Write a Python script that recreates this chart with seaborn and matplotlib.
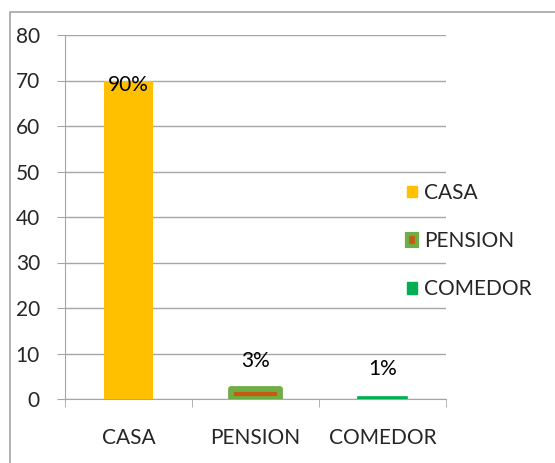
import numpy as np
import pandas as pd
import seaborn as sns
import matplotlib.pyplot as plt
from matplotlib.patches import Patch, Rectangle

# data
categorias = ["CASA", "PENSION", "COMEDOR"]
valores = [70, 2.3, 0.5]
etiquetas = ["90%", "3%", "1%"]

colores = {"CASA": "#FFC000", "PENSION": "#C55A11", "COMEDOR": "#00B050"}
bordes = {"CASA": "#FFC000", "PENSION": "#70AD47", "COMEDOR": "#00B050"}

df = pd.DataFrame({"lugar": categorias, "valor": valores})

sns.set_style("white")
plt.rcParams["font.family"] = ["Lato", "DejaVu Sans"]

fig = plt.figure(figsize=(5.55, 4.63), dpi=100)
ax = fig.add_axes([65 / 555, 1 - 399 / 463, (446 - 65) / 555, (399 - 35) / 463])

sns.barplot(data=df, x="lugar", y="valor", hue="lugar", palette=colores,
            dodge=False, width=0.39, saturation=1, legend=False, ax=ax, zorder=3)

for bar, cat in zip(ax.patches, categorias):
    if cat == "PENSION":
        bar.set_edgecolor(bordes[cat])
        bar.set_linewidth(4.2)
        bar.set_joinstyle("round")
    elif cat == "COMEDOR":
        bar.set_edgecolor(bordes[cat])
        bar.set_linewidth(1.2)
    else:
        bar.set_linewidth(0)

# percentage labels
fs = 15
offsets = [-3, 20, 20]
for i, (v, lab, off) in enumerate(zip(valores, etiquetas, offsets)):
    ax.annotate(lab, (i, v), xytext=(0, off), textcoords="offset points",
                ha="center", va="center", fontsize=fs, color="black", zorder=5)

ax.set_ylim(0, 80)
ax.set_yticks(range(0, 81, 10))
ax.set_xlim(-0.5, 2.5)
ax.set_xlabel("")
ax.set_ylabel("")
ax.yaxis.grid(True, color="#A6A6A6", linewidth=1, zorder=0)
ax.tick_params(axis="y", length=6, color="#A6A6A6", labelsize=fs, pad=12)
ax.tick_params(axis="x", length=0, labelsize=fs, pad=21)
ax.set_xticks(range(3))
ax.set_xticklabels(categorias)
ax.set_xticks([-0.5, 0.5, 1.5, 2.5], minor=True)
ax.tick_params(axis="x", which="minor", length=6, color="#A6A6A6", direction="out")
ax.xaxis.set_ticks_position("bottom")
ax.yaxis.set_ticks_position("left")

for s in ["top", "right"]:
    ax.spines[s].set_visible(False)
ax.spines["left"].set_color("#A6A6A6")
ax.spines["bottom"].set_color("#A6A6A6")

handles = [
    Patch(facecolor=colores["CASA"], edgecolor=colores["CASA"], label="CASA"),
    Patch(facecolor=colores["PENSION"], edgecolor=bordes["PENSION"], linewidth=3, label="PENSION"),
    Patch(facecolor=colores["COMEDOR"], edgecolor=colores["COMEDOR"], label="COMEDOR"),
]
fig.legend(handles=handles, loc="center left", bbox_to_anchor=(388 / 555, 1 - 241 / 463),
           frameon=False, fontsize=fs, handlelength=0.5, handleheight=0.5,
           handletextpad=0.35, labelspacing=1.35)

fig.patches.append(Rectangle((10 / 555, -0.1), 1.2, 1 - 12 / 463 + 0.1,
                             transform=fig.transFigure, fill=False,
                             edgecolor="#A6A6A6", linewidth=1.2))

fig.savefig("out.png", dpi=100)
